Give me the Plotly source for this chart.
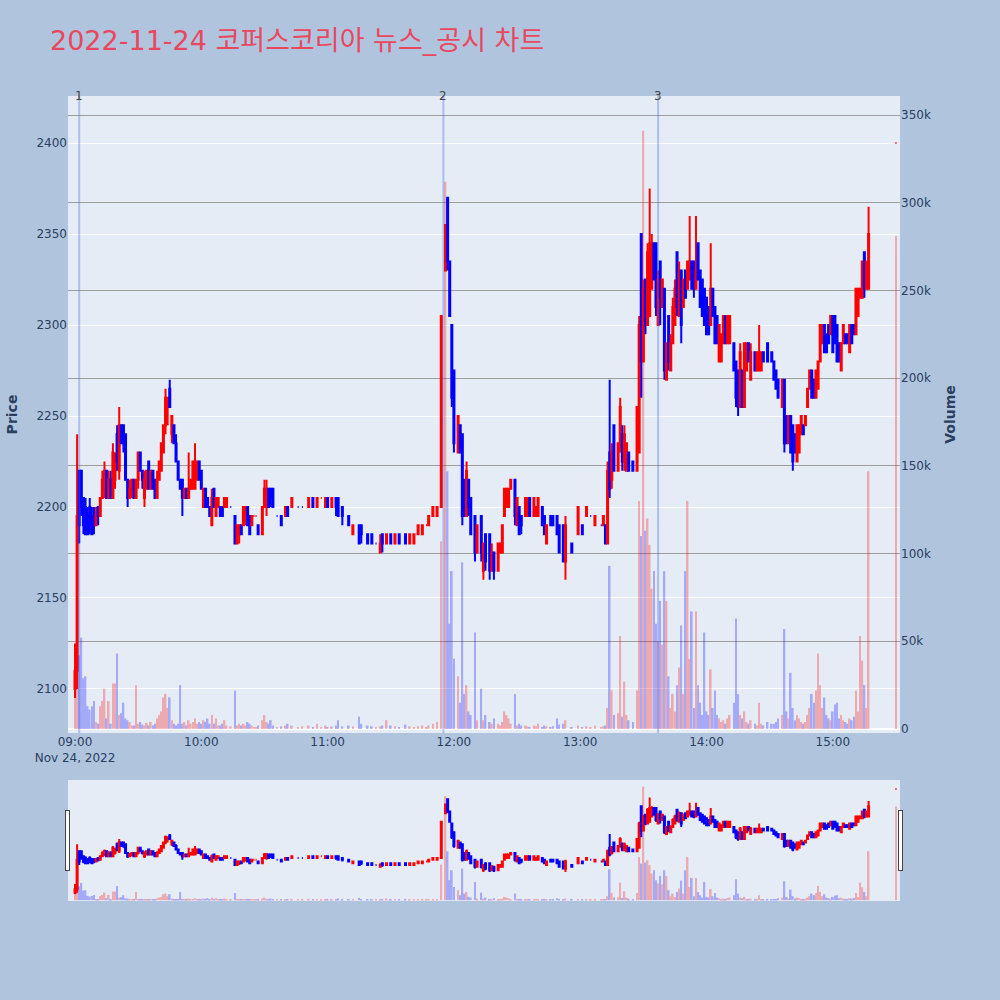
import plotly.graph_objects as go
from plotly.subplots import make_subplots

DAY = "2022-11-24"
TITLE = "2022-11-24 코퍼스코리아 뉴스_공시 차트"

times = [
    "09:00", "09:01", "09:02", "09:03", "09:04", "09:05", "09:06", "09:07", "09:08", "09:09",
    "09:10", "09:11", "09:12", "09:13", "09:14", "09:15", "09:16", "09:17", "09:18", "09:19",
    "09:20", "09:21", "09:22", "09:23", "09:24", "09:25", "09:26", "09:27", "09:28", "09:29",
    "09:30", "09:31", "09:32", "09:33", "09:34", "09:35", "09:36", "09:37", "09:38", "09:39",
    "09:40", "09:41", "09:42", "09:43", "09:44", "09:45", "09:46", "09:47", "09:48", "09:49",
    "09:50", "09:51", "09:52", "09:53", "09:54", "09:55", "09:56", "09:57", "09:58", "09:59",
    "10:00", "10:01", "10:02", "10:03", "10:04", "10:05", "10:06", "10:07", "10:08", "10:09",
    "10:10", "10:11", "10:12", "10:14", "10:16", "10:17", "10:18", "10:19", "10:20", "10:21",
    "10:22", "10:23", "10:24", "10:25", "10:26", "10:27", "10:29", "10:30", "10:31", "10:32",
    "10:33", "10:34", "10:36", "10:38", "10:40", "10:41", "10:43", "10:46", "10:48", "10:51",
    "10:53", "10:55", "10:57", "10:59", "11:00", "11:02", "11:04", "11:05", "11:07", "11:10",
    "11:12", "11:15", "11:16", "11:19", "11:21", "11:23", "11:25", "11:26", "11:28", "11:30",
    "11:32", "11:34", "11:37", "11:39", "11:41", "11:43", "11:45", "11:47", "11:48", "11:50",
    "11:52", "11:54", "11:56", "11:57", "11:58", "11:59", "12:00", "12:02", "12:03", "12:04",
    "12:05", "12:06", "12:07", "12:08", "12:10", "12:11", "12:13", "12:14", "12:15", "12:17",
    "12:18", "12:19", "12:21", "12:22", "12:23", "12:24", "12:25", "12:26", "12:27", "12:29",
    "12:30", "12:31", "12:32", "12:34", "12:35", "12:36", "12:38", "12:39", "12:40", "12:42",
    "12:43", "12:44", "12:46", "12:47", "12:49", "12:50", "12:52", "12:53", "12:56", "12:59",
    "13:01", "13:03", "13:05", "13:07", "13:10", "13:11", "13:12", "13:13", "13:14", "13:15",
    "13:16", "13:18", "13:19", "13:20", "13:21", "13:22", "13:23", "13:25", "13:27", "13:28",
    "13:29", "13:30", "13:31", "13:32", "13:33", "13:34", "13:35", "13:36", "13:37", "13:38",
    "13:39", "13:40", "13:41", "13:42", "13:43", "13:44", "13:45", "13:46", "13:47", "13:48",
    "13:49", "13:50", "13:51", "13:52", "13:53", "13:54", "13:55", "13:56", "13:57", "13:58",
    "13:59", "14:00", "14:01", "14:02", "14:03", "14:04", "14:05", "14:06", "14:07", "14:08",
    "14:09", "14:10", "14:11", "14:13", "14:14", "14:15", "14:16", "14:17", "14:18", "14:19",
    "14:20", "14:21", "14:23", "14:24", "14:25", "14:26", "14:27", "14:29", "14:31", "14:32",
    "14:33", "14:34", "14:36", "14:37", "14:38", "14:39", "14:40", "14:41", "14:42", "14:43",
    "14:44", "14:45", "14:46", "14:47", "14:48", "14:49", "14:50", "14:51", "14:52", "14:53",
    "14:54", "14:55", "14:56", "14:57", "14:58", "14:59", "15:00", "15:01", "15:02", "15:03",
    "15:04", "15:05", "15:06", "15:07", "15:08", "15:09", "15:10", "15:11", "15:12", "15:13",
    "15:14", "15:15", "15:16", "15:17", "15:30",
]

opens = [
    2100, 2110, 2220, 2220, 2205, 2200, 2195, 2200, 2195, 2195,
    2190, 2200, 2195, 2205, 2210, 2220, 2205, 2215, 2205, 2215,
    2240, 2220, 2245, 2245, 2240, 2215, 2205, 2210, 2215, 2205,
    2215, 2230, 2220, 2205, 2210, 2225, 2210, 2220, 2215, 2205,
    2215, 2220, 2230, 2245, 2255, 2265, 2240, 2245, 2235, 2225,
    2215, 2215, 2205, 2210, 2205, 2210, 2210, 2210, 2215, 2225,
    2220, 2200, 2210, 2205, 2200, 2190, 2210, 2195, 2200, 2200,
    2200, 2200, 2200, 2200, 2195, 2180, 2185, 2190, 2190, 2195,
    2200, 2195, 2190, 2195, 2195, 2190, 2185, 2200, 2200, 2210,
    2210, 2210, 2195, 2195, 2195, 2200, 2200, 2200, 2200, 2200,
    2205, 2200, 2205, 2200, 2205, 2200, 2205, 2205, 2200, 2195,
    2185, 2190, 2190, 2185, 2185, 2180, 2175, 2185, 2180, 2185,
    2180, 2185, 2185, 2180, 2180, 2185, 2185, 2190, 2190, 2195,
    2195, 2200, 2330, 2370, 2335, 2300, 2275, 2230, 2245, 2240,
    2215, 2195, 2215, 2205, 2195, 2175, 2195, 2165, 2185, 2185,
    2165, 2175, 2165, 2175, 2175, 2195, 2200, 2200, 2210, 2215,
    2190, 2200, 2195, 2195, 2195, 2205, 2195, 2195, 2195, 2200,
    2195, 2180, 2195, 2195, 2195, 2190, 2190, 2170, 2180, 2185,
    2190, 2195, 2195, 2190, 2190, 2190, 2190, 2180, 2230, 2215,
    2245, 2220, 2235, 2240, 2225, 2220, 2230, 2225, 2220, 2230,
    2350, 2280, 2325, 2300, 2305, 2320, 2345, 2345, 2300, 2335,
    2310, 2320, 2270, 2305, 2275, 2290, 2300, 2340, 2305, 2330,
    2310, 2330, 2320, 2325, 2335, 2335, 2320, 2345, 2330, 2325,
    2320, 2315, 2310, 2300, 2320, 2310, 2305, 2280, 2280, 2290,
    2305, 2290, 2290, 2290, 2280, 2275, 2255, 2275, 2255, 2275,
    2290, 2270, 2285, 2275, 2275, 2275, 2285, 2290, 2285, 2280,
    2275, 2270, 2255, 2270, 2250, 2235, 2250, 2245, 2240, 2225,
    2230, 2240, 2245, 2245, 2255, 2265, 2275, 2270, 2260, 2265,
    2280, 2290, 2300, 2295, 2300, 2295, 2305, 2305, 2300, 2290,
    2275, 2290, 2295, 2295, 2285, 2300, 2300, 2295, 2305, 2315,
    2315, 2340, 2320, 2320, 2400,
]

highs = [
    2125, 2240, 2220, 2220, 2205, 2205, 2200, 2205, 2200, 2200,
    2200, 2200, 2205, 2220, 2225, 2220, 2220, 2220, 2235, 2230,
    2245, 2255, 2245, 2245, 2240, 2215, 2215, 2215, 2215, 2215,
    2230, 2230, 2220, 2220, 2220, 2225, 2220, 2220, 2215, 2220,
    2225, 2235, 2245, 2265, 2260, 2270, 2250, 2245, 2240, 2225,
    2215, 2215, 2210, 2210, 2230, 2215, 2225, 2235, 2225, 2225,
    2220, 2210, 2210, 2205, 2200, 2210, 2210, 2205, 2205, 2200,
    2200, 2205, 2205, 2200, 2195, 2190, 2190, 2190, 2200, 2200,
    2200, 2195, 2195, 2195, 2195, 2190, 2200, 2215, 2215, 2210,
    2210, 2210, 2195, 2195, 2200, 2200, 2205, 2200, 2200, 2205,
    2205, 2205, 2205, 2205, 2205, 2205, 2205, 2205, 2200, 2195,
    2190, 2190, 2190, 2185, 2185, 2180, 2185, 2185, 2185, 2185,
    2185, 2185, 2185, 2185, 2185, 2190, 2190, 2190, 2195, 2200,
    2200, 2305, 2355, 2370, 2335, 2300, 2275, 2250, 2245, 2240,
    2215, 2225, 2215, 2205, 2195, 2190, 2195, 2180, 2185, 2185,
    2180, 2175, 2180, 2180, 2190, 2210, 2210, 2210, 2215, 2215,
    2205, 2200, 2195, 2205, 2205, 2205, 2205, 2200, 2205, 2200,
    2195, 2190, 2195, 2195, 2195, 2190, 2190, 2195, 2180, 2200,
    2190, 2200, 2195, 2195, 2190, 2195, 2190, 2225, 2270, 2235,
    2245, 2235, 2260, 2245, 2245, 2235, 2230, 2225, 2255, 2305,
    2350, 2325, 2325, 2345, 2375, 2350, 2345, 2345, 2330, 2335,
    2325, 2320, 2290, 2305, 2295, 2315, 2325, 2340, 2335, 2330,
    2325, 2330, 2335, 2360, 2335, 2335, 2360, 2345, 2330, 2325,
    2320, 2315, 2310, 2345, 2320, 2310, 2305, 2300, 2295, 2305,
    2305, 2305, 2305, 2290, 2280, 2275, 2290, 2275, 2290, 2290,
    2290, 2290, 2285, 2285, 2300, 2285, 2285, 2290, 2285, 2280,
    2275, 2270, 2270, 2270, 2250, 2250, 2250, 2245, 2240, 2245,
    2245, 2250, 2245, 2250, 2265, 2275, 2275, 2270, 2275, 2280,
    2300, 2300, 2300, 2295, 2300, 2305, 2305, 2305, 2300, 2290,
    2290, 2300, 2295, 2295, 2300, 2300, 2300, 2320, 2320, 2320,
    2335, 2340, 2335, 2365, 2400,
]

lows = [
    2095, 2100, 2180, 2195, 2185, 2185, 2185, 2185, 2185, 2185,
    2190, 2190, 2195, 2205, 2205, 2205, 2205, 2205, 2205, 2210,
    2220, 2215, 2235, 2230, 2215, 2200, 2205, 2205, 2205, 2205,
    2210, 2220, 2210, 2200, 2210, 2210, 2210, 2210, 2205, 2205,
    2215, 2220, 2230, 2240, 2245, 2255, 2235, 2235, 2225, 2215,
    2210, 2195, 2205, 2205, 2205, 2210, 2210, 2210, 2215, 2215,
    2210, 2200, 2200, 2200, 2195, 2190, 2200, 2195, 2200, 2195,
    2195, 2200, 2200, 2200, 2180, 2180, 2180, 2185, 2190, 2190,
    2190, 2185, 2190, 2195, 2195, 2185, 2185, 2200, 2195, 2200,
    2200, 2200, 2195, 2190, 2195, 2195, 2200, 2200, 2200, 2200,
    2200, 2200, 2205, 2200, 2200, 2200, 2195, 2195, 2190, 2190,
    2185, 2180, 2180, 2180, 2180, 2180, 2175, 2175, 2180, 2180,
    2180, 2180, 2180, 2180, 2180, 2185, 2185, 2190, 2190, 2195,
    2195, 2200, 2330, 2330, 2305, 2255, 2230, 2230, 2230, 2190,
    2195, 2195, 2195, 2185, 2170, 2175, 2170, 2160, 2165, 2160,
    2165, 2160, 2165, 2175, 2175, 2195, 2200, 2200, 2210, 2190,
    2190, 2185, 2185, 2195, 2195, 2195, 2195, 2195, 2195, 2190,
    2185, 2180, 2190, 2190, 2185, 2175, 2170, 2160, 2175, 2185,
    2185, 2195, 2195, 2190, 2190, 2190, 2180, 2180, 2205, 2210,
    2220, 2220, 2230, 2220, 2220, 2220, 2220, 2220, 2220, 2230,
    2260, 2280, 2295, 2300, 2305, 2320, 2325, 2305, 2300, 2300,
    2310, 2270, 2270, 2275, 2275, 2290, 2300, 2305, 2305, 2290,
    2310, 2315, 2320, 2325, 2320, 2315, 2320, 2325, 2310, 2305,
    2300, 2295, 2295, 2300, 2305, 2290, 2290, 2280, 2280, 2290,
    2290, 2290, 2290, 2275, 2255, 2250, 2255, 2255, 2255, 2275,
    2280, 2270, 2275, 2275, 2275, 2275, 2280, 2280, 2280, 2270,
    2265, 2260, 2255, 2230, 2235, 2235, 2230, 2220, 2230, 2225,
    2230, 2240, 2240, 2245, 2255, 2265, 2260, 2260, 2260, 2265,
    2280, 2290, 2285, 2285, 2290, 2295, 2285, 2290, 2280, 2280,
    2275, 2290, 2290, 2290, 2285, 2290, 2295, 2295, 2305, 2315,
    2315, 2315, 2320, 2320, 2400,
]

closes = [
    2110, 2195, 2190, 2200, 2190, 2185, 2185, 2190, 2185, 2190,
    2195, 2195, 2205, 2215, 2220, 2205, 2215, 2205, 2230, 2225,
    2225, 2245, 2235, 2235, 2215, 2205, 2210, 2215, 2205, 2215,
    2230, 2220, 2215, 2215, 2220, 2210, 2220, 2210, 2205, 2215,
    2225, 2235, 2245, 2260, 2260, 2255, 2250, 2235, 2225, 2215,
    2210, 2205, 2210, 2205, 2210, 2215, 2225, 2225, 2225, 2215,
    2210, 2210, 2200, 2200, 2195, 2205, 2200, 2205, 2205, 2195,
    2195, 2205, 2205, 2200, 2180, 2190, 2190, 2185, 2200, 2200,
    2190, 2185, 2195, 2195, 2195, 2185, 2200, 2210, 2210, 2200,
    2205, 2200, 2195, 2190, 2200, 2195, 2205, 2200, 2200, 2205,
    2200, 2205, 2205, 2205, 2200, 2205, 2200, 2195, 2195, 2190,
    2190, 2180, 2185, 2180, 2180, 2180, 2180, 2180, 2185, 2180,
    2185, 2180, 2180, 2185, 2185, 2190, 2190, 2190, 2195, 2200,
    2200, 2305, 2355, 2335, 2305, 2260, 2235, 2250, 2230, 2195,
    2195, 2220, 2200, 2185, 2175, 2190, 2175, 2180, 2170, 2165,
    2175, 2165, 2180, 2180, 2190, 2210, 2210, 2210, 2215, 2195,
    2205, 2185, 2190, 2205, 2205, 2195, 2205, 2200, 2205, 2190,
    2185, 2190, 2190, 2190, 2185, 2175, 2170, 2190, 2175, 2200,
    2185, 2200, 2195, 2195, 2190, 2195, 2180, 2220, 2210, 2230,
    2220, 2235, 2255, 2225, 2240, 2235, 2220, 2220, 2255, 2300,
    2280, 2320, 2300, 2340, 2345, 2345, 2325, 2310, 2325, 2315,
    2325, 2275, 2290, 2280, 2290, 2310, 2320, 2310, 2330, 2300,
    2325, 2315, 2335, 2335, 2320, 2320, 2330, 2325, 2310, 2305,
    2300, 2295, 2295, 2320, 2305, 2290, 2290, 2300, 2295, 2305,
    2290, 2305, 2305, 2275, 2260, 2255, 2285, 2255, 2290, 2290,
    2280, 2285, 2275, 2285, 2285, 2285, 2280, 2280, 2280, 2270,
    2265, 2260, 2270, 2235, 2235, 2250, 2230, 2225, 2230, 2245,
    2245, 2250, 2240, 2250, 2265, 2275, 2260, 2260, 2275, 2280,
    2300, 2300, 2285, 2285, 2290, 2305, 2285, 2290, 2280, 2280,
    2290, 2300, 2290, 2290, 2300, 2290, 2295, 2320, 2320, 2320,
    2335, 2320, 2335, 2350, 2400,
]

volumes = [
    18000, 27000, 42000, 52000, 29000, 30000, 13000, 11000, 13000, 16000,
    4000, 3000, 13000, 16000, 23000, 6000, 16000, 3000, 26000, 26000,
    43000, 8000, 9000, 15000, 6000, 5000, 4000, 2000, 2000, 25000,
    3000, 4000, 2500, 2000, 3500, 2000, 4000, 2000, 3000, 6000,
    8000, 10000, 18000, 20000, 12000, 18000, 5000, 3000, 2000, 3000,
    25000, 3000, 4000, 2000, 5000, 3000, 4000, 6000, 3000, 4000,
    3000, 5000, 4000, 6000, 3000, 8000, 3000, 6000, 2000, 2000,
    3000, 5000, 2000, 1500, 22000, 2000, 3000, 2000, 3000, 2000,
    4000, 3000, 2000, 1000, 1000, 2000, 5000, 8000, 4000, 3000,
    5000, 2000, 1000, 1500, 2000, 3000, 2000, 1000, 1500, 2000,
    1000, 3000, 1000, 2000, 1000, 1500, 2000, 5000, 1500, 2000,
    1500, 7000, 3000, 2000, 1500, 1000, 1500, 2000, 5000, 2000,
    1500, 1000, 2500, 1500, 1000, 1500, 2000, 1000, 2000, 3000,
    4000, 107000, 312000, 147000, 60000, 90000, 40000, 30000, 15000, 95000,
    20000, 25000, 10000, 8000, 55000, 5000, 23000, 5000, 8000, 4000,
    3000, 6000, 3000, 2000, 4000, 10000, 8000, 6000, 3000, 20000,
    2000, 3000, 2000, 2000, 1500, 1000, 2000, 1500, 3000, 1000,
    2000, 1500, 1000, 1500, 6000, 2500, 3000, 5000, 1000, 2000,
    1000, 1500, 1000, 2000, 1000, 1500, 2000, 12000, 93000, 22000,
    8000, 9000, 53000, 7000, 27000, 8000, 5000, 4000, 22000, 130000,
    110000, 341000, 113000, 120000, 105000, 80000, 90000, 60000, 50000, 73000,
    48000, 90000, 73000, 30000, 12000, 20000, 10000, 25000, 35000, 59000,
    20000, 90000, 130000, 40000, 67000, 12000, 67000, 25000, 15000, 8000,
    55000, 10000, 8000, 34000, 12000, 22000, 8000, 6000, 4000, 5000,
    3000, 6000, 8000, 15000, 63000, 20000, 8000, 6000, 10000, 4000,
    3000, 5000, 3000, 2000, 15000, 3000, 2000, 4000, 3000, 3000,
    4000, 6000, 8000, 57000, 10000, 6000, 32000, 12000, 5000, 8000,
    6000, 4000, 3000, 4000, 8000, 12000, 20000, 15000, 22000, 43000,
    25000, 12000, 18000, 8000, 6000, 5000, 10000, 14000, 15000, 6000,
    8000, 5000, 4000, 3000, 6000, 5000, 7000, 22000, 10000, 53000,
    39000, 25000, 12000, 147000, 281000,
]

event_times = ["09:02", "11:55", "13:37"]
event_labels = ["1", "2", "3"]

n = len(times)
assert len(opens) == n and len(highs) == n and len(lows) == n and len(closes) == n and len(volumes) == n, (
    n, len(opens), len(highs), len(lows), len(closes), len(volumes))

FONT = "DejaVu Sans, Noto Sans CJK KR, sans-serif"

x = [f"{DAY} {t}:00" for t in times]
x_range = [f"{DAY} 08:56:40", f"{DAY} 15:31:55"]

fig = make_subplots(specs=[[{"secondary_y": True}]])

fig.add_trace(
    go.Candlestick(
        x=x, open=opens, high=highs, low=lows, close=closes,
        increasing=dict(line=dict(color="red", width=2), fillcolor="red"),
        decreasing=dict(line=dict(color="blue", width=2), fillcolor="blue"),
        name="Price", showlegend=False,
    ),
    secondary_y=False,
)

vol_colors = ["red" if c >= o else "blue" for o, c in zip(opens, closes)]
fig.add_trace(
    go.Bar(
        x=x, y=volumes, marker=dict(color=vol_colors, line=dict(width=0)),
        opacity=0.28, name="Volume", showlegend=False,
    ),
    secondary_y=True,
)

for t, lbl in zip(event_times, event_labels):
    xt = f"{DAY} {t}:00"
    fig.add_shape(
        type="line", xref="x", yref="paper", x0=xt, x1=xt, y0=0, y1=1,
        line=dict(color="royalblue", width=2), opacity=0.35,
    )
    fig.add_annotation(
        x=xt, xref="x", y=1, yref="paper", text=lbl, showarrow=False,
        xanchor="center", yanchor="middle", font=dict(size=12, color="#444"),
    )

fig.update_layout(
    width=1000, height=1000,
    font=dict(family=FONT),
    paper_bgcolor="lightsteelblue",
    plot_bgcolor="#E5ECF6",
    title=dict(
        text=TITLE, x=0.05, xanchor="left", y=0.9595, yanchor="middle",
        font=dict(size=27, color="#E8485F", family=FONT),
    ),
    margin=dict(l=68, r=100, t=96, b=100),
    showlegend=False,
)

fig.update_xaxes(
    domain=[0, 1],
    range=x_range,
    rangeslider=dict(visible=True, range=x_range, thickness=0.15, bgcolor="#E5ECF6"),
)
fig.update_yaxes(
    title_text="<b>Price</b>", range=[2075.8, 2425.9], automargin=False,
    secondary_y=False,
)
fig.update_yaxes(
    title_text="<b>Volume</b>", range=[-2284, 360850], automargin=False,
    gridcolor="#9E9E9E", secondary_y=True,
)

fig.write_html(
    "out.html",
    config={"displayModeBar": False},
    post_script="document.body.style.margin='0';document.body.style.overflow='hidden';",
)
